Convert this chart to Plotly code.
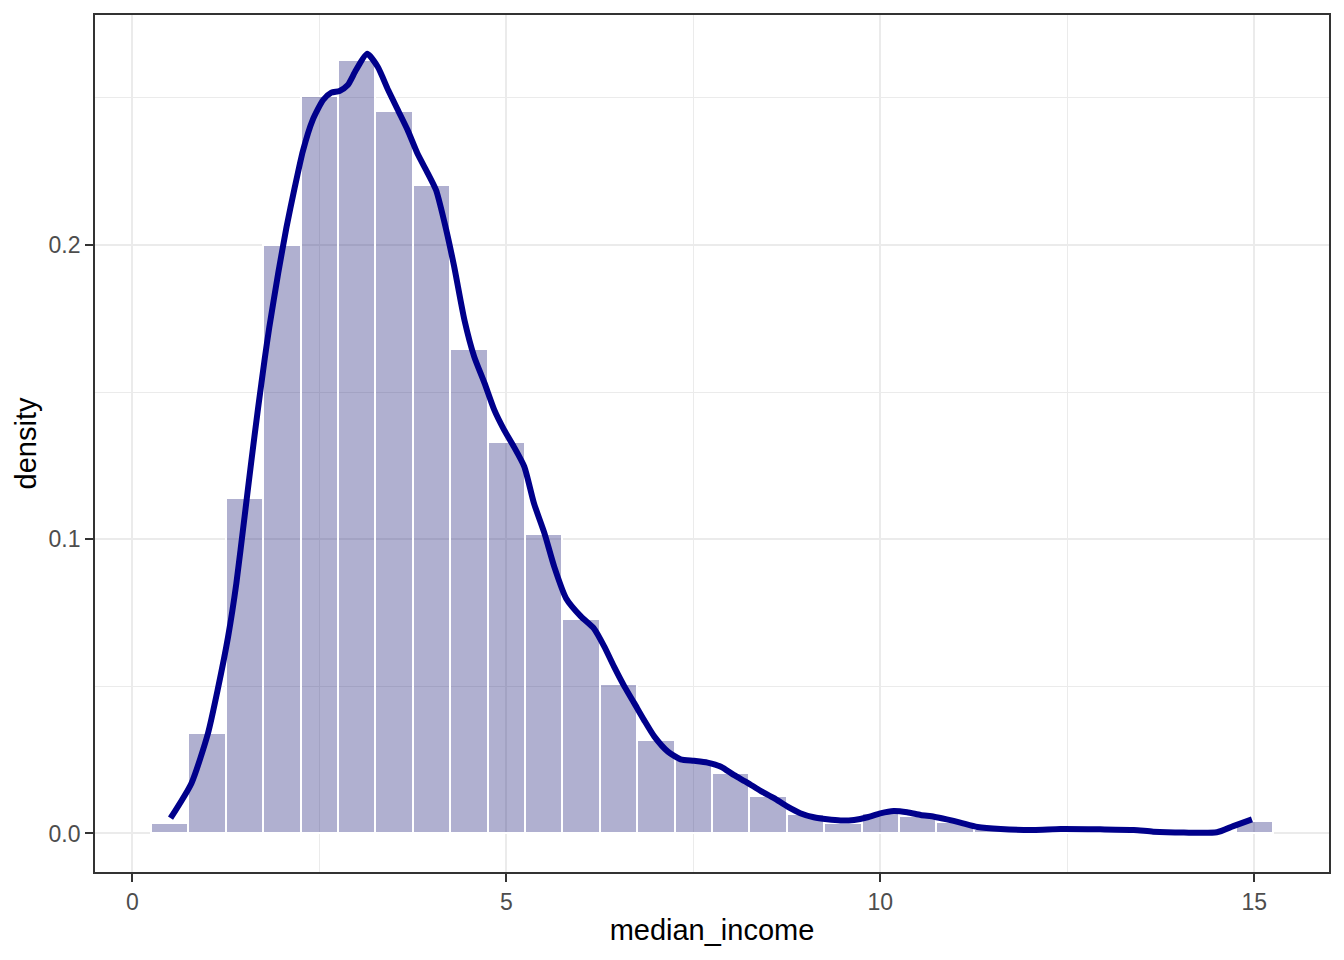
import plotly.graph_objects as go

# Histogram (bin centers, bin width 0.5) - density values
bin_centers = [0.5, 1.0, 1.5, 2.0, 2.5, 3.0, 3.5, 4.0, 4.5, 5.0,
               5.5, 6.0, 6.5, 7.0, 7.5, 8.0, 8.5, 9.0, 9.5, 10.0,
               10.5, 11.0, 11.5, 12.0, 12.5, 13.0, 13.5, 14.0, 14.5, 15.0]
bin_density = [0.0037, 0.0342, 0.1140, 0.2000, 0.2507, 0.2630, 0.2457, 0.2204, 0.1647, 0.1331,
               0.1018, 0.0729, 0.0508, 0.0318, 0.0250, 0.0205, 0.0127, 0.0066, 0.0037, 0.0071,
               0.0060, 0.0040, 0.0015, 0.0012, 0.0013, 0.0012, 0.0010, 0.0004, 0.0004, 0.0042]
bin_width = 0.5

# Kernel density curve
kde_x = [0.51, 0.79, 1.01, 1.14, 1.28, 1.39, 1.50, 1.59, 1.68, 1.77, 1.83,
         1.95, 2.06, 2.17, 2.28, 2.41, 2.55, 2.66, 2.77, 2.88, 2.99, 3.14,
         3.28, 3.42, 3.55, 3.68, 3.81, 3.95, 4.06, 4.17, 4.30, 4.44, 4.57,
         4.71, 4.84, 4.97, 5.10, 5.24, 5.37, 5.51, 5.64, 5.80, 6.00, 6.17,
         6.31, 6.44, 6.58, 6.71, 6.84, 6.98, 7.16, 7.33, 7.51, 7.69, 7.87,
         8.04, 8.22, 8.40, 8.58, 8.76, 8.93, 9.11, 9.29, 9.47, 9.65, 9.83,
         10.00, 10.18, 10.36, 10.54, 10.72, 10.89, 11.07, 11.30, 11.61, 12.05,
         12.41, 12.94, 13.39, 13.65, 14.06, 14.50, 14.72, 14.97]
kde_y = [0.0052, 0.0171, 0.0340, 0.0488, 0.0669, 0.0850, 0.1077, 0.1265, 0.1445, 0.1615, 0.1720,
         0.1905, 0.2060, 0.2195, 0.2320, 0.2425, 0.2493, 0.2518, 0.2524, 0.2544, 0.2595, 0.2650,
         0.2606, 0.2527, 0.2459, 0.2391, 0.2312, 0.2244, 0.2187, 0.2080, 0.1930, 0.1745, 0.1621,
         0.1530, 0.1439, 0.1372, 0.1315, 0.1247, 0.1122, 0.1020, 0.0907, 0.0799, 0.0737, 0.0697,
         0.0635, 0.0567, 0.0499, 0.0443, 0.0386, 0.0329, 0.0278, 0.0252, 0.0247, 0.0241, 0.0227,
         0.0199, 0.0173, 0.0145, 0.0120, 0.0091, 0.0069, 0.0055, 0.0048, 0.0044, 0.0046, 0.0055,
         0.0068, 0.0076, 0.0072, 0.0063, 0.0057, 0.0048, 0.0037, 0.0022, 0.0015, 0.0012,
         0.0015, 0.0014, 0.0012, 0.0006, 0.0003, 0.0004, 0.0025, 0.0048]

x_ticks = [0, 5, 10, 15]
x_tick_labels = ["0", "5", "10", "15"]
y_ticks = [0.0, 0.1, 0.2]
y_tick_labels = ["0.0", "0.1", "0.2"]

FONT = "Liberation Sans, Arial, sans-serif"

fig = go.Figure()
fig.add_trace(go.Bar(
    x=bin_centers, y=bin_density, width=bin_width,
    marker=dict(color="rgba(28,30,120,0.35)", line=dict(color="white", width=2)),
    showlegend=False, hoverinfo="skip",
))
fig.add_trace(go.Scatter(
    x=kde_x, y=kde_y, mode="lines",
    line=dict(color="#00008B", width=6, shape="spline", smoothing=0.6),
    showlegend=False, hoverinfo="skip",
))

axis_common = dict(
    showline=True, mirror=True, linecolor="#333333", linewidth=1.8,
    ticks="outside", ticklen=8, tickwidth=2, tickcolor="#333333",
    showgrid=True, gridcolor="#EBEBEB", gridwidth=2,
    zeroline=False, automargin=False,
    tickfont=dict(family=FONT, size=23, color="#4D4D4D"),
)

# The page body adds an 8px margin, so the figure is sized to fit inside it
fig.update_layout(
    width=1336, height=952,
    paper_bgcolor="white", plot_bgcolor="white",
    margin=dict(l=87, r=15, t=7, b=88),
    bargap=0,
    xaxis=dict(
        range=[-0.5, 16.0], tickvals=x_ticks, ticktext=x_tick_labels,
        minor=dict(dtick=2.5, tick0=0, showgrid=True, gridcolor="#EBEBEB", gridwidth=1.2, ticks=""),
        title=dict(text="median_income", font=dict(family=FONT, size=29, color="black"), standoff=6),
        **axis_common,
    ),
    yaxis=dict(
        range=[-0.0131, 0.2782], tickvals=y_ticks, ticktext=y_tick_labels,
        minor=dict(dtick=0.05, tick0=0, showgrid=True, gridcolor="#EBEBEB", gridwidth=1.2, ticks=""),
        title=dict(text="density", font=dict(family=FONT, size=29, color="black"), standoff=3),
        **axis_common,
    ),
)

fig.write_html("out.html")
